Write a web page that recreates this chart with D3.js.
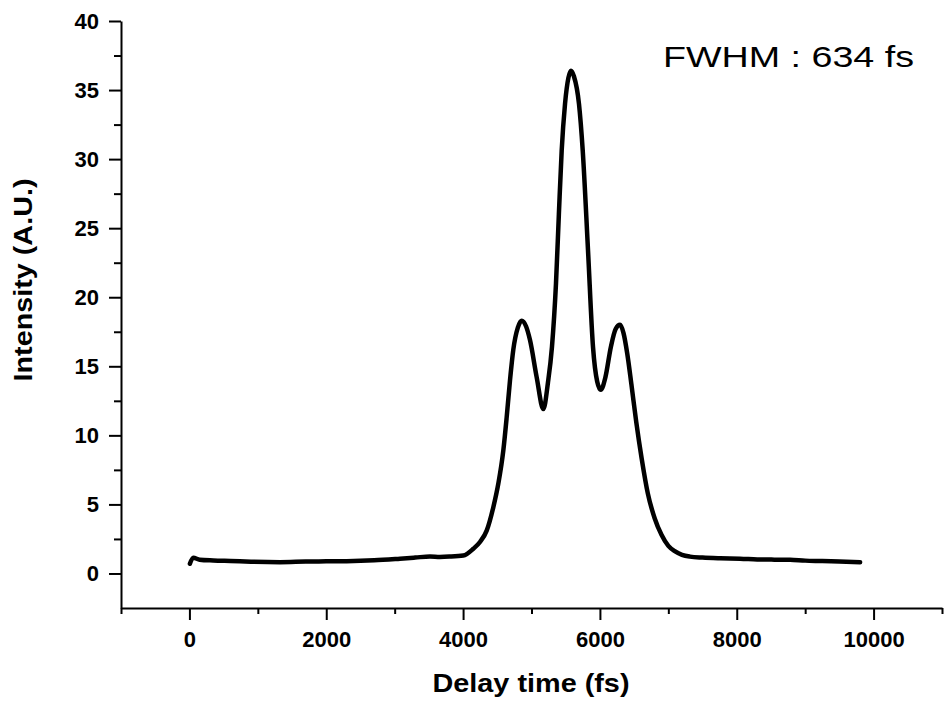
<!DOCTYPE html>
<html>
<head>
<meta charset="utf-8">
<script src="https://d3js.org/d3.v7.min.js"></script>
<style>
  body { margin: 0; background: #fff; }
  .axis path, .axis line { stroke: #000; stroke-width: 2; }
  .axis text { font-family: "Liberation Sans", Arial, sans-serif; font-weight: bold; font-size: 22px; fill: #000; }
</style>
</head>
<body>
<svg id="chart" width="946" height="702"></svg>
<script>
const delay = [7, 56, 150, 348, 600, 900, 1323, 1700, 2000, 2298, 2700, 3077, 3300, 3516, 3662, 3800, 4003,
  4149, 4250, 4345, 4442, 4515, 4588, 4637, 4686, 4734, 4800, 4857, 4920, 4978, 5076, 5173, 5240, 5299,
  5358, 5400, 5441, 5490, 5540, 5577, 5620, 5694, 5749, 5826, 5899, 5960, 6012, 6080, 6160, 6230, 6294,
  6345, 6400, 6460, 6530, 6611, 6700, 6800, 6900, 7000, 7100, 7200, 7317, 7500, 7756, 8048, 8300, 8550,
  8779, 9000, 9250, 9500, 9803];
const intensity = [0.7, 1.14, 1.0, 0.94, 0.9, 0.85, 0.82, 0.86, 0.88, 0.89, 0.95, 1.07, 1.15, 1.23, 1.2, 1.22, 1.3,
  1.79, 2.3, 3.1, 4.8, 6.5, 8.9, 11.3, 14.0, 16.2, 17.8, 18.3, 17.9, 16.9, 14.2, 11.9, 13.8, 16.4,
  21.0, 26.0, 30.6, 34.0, 35.9, 36.4, 36.0, 34.0, 30.6, 23.4, 16.4, 13.9, 13.3, 14.2, 16.4, 17.7, 18.0,
  17.4, 15.9, 13.7, 11.0, 8.3, 5.8, 4.0, 2.8, 2.0, 1.6, 1.35, 1.22, 1.15, 1.1, 1.07, 1.02, 1.0,
  0.99, 0.93, 0.9, 0.86, 0.82];

const xMajor = [0, 2000, 4000, 6000, 8000, 10000];
const xMinor = [-1000, 1000, 3000, 5000, 7000, 9000, 11000];
const yMajor = [0, 5, 10, 15, 20, 25, 30, 35, 40];
const yMinor = [2.5, 7.5, 12.5, 17.5, 22.5, 27.5, 32.5, 37.5];

const svg = d3.select("#chart");

const x = d3.scaleLinear().domain([-1000, 11000]).range([121, 942]);
const y = d3.scaleLinear().domain([-2.5, 40]).range([608, 21]);

// x axis
svg.append("g")
  .attr("class", "axis")
  .attr("transform", "translate(0," + y(-2.5) + ")")
  .call(d3.axisBottom(x).tickValues(xMajor).tickSize(12).tickPadding(11).tickSizeOuter(0).tickFormat(d3.format("d")));
svg.append("g")
  .attr("class", "axis")
  .attr("transform", "translate(0," + y(-2.5) + ")")
  .call(d3.axisBottom(x).tickValues(xMinor).tickSize(6).tickSizeOuter(0).tickFormat(""))
  .select(".domain").remove();

// y axis
svg.append("g")
  .attr("class", "axis")
  .attr("transform", "translate(" + x(-1000) + ",0)")
  .call(d3.axisLeft(y).tickValues(yMajor).tickSize(12).tickPadding(10).tickSizeOuter(0));
svg.append("g")
  .attr("class", "axis")
  .attr("transform", "translate(" + x(-1000) + ",0)")
  .call(d3.axisLeft(y).tickValues(yMinor).tickSize(7).tickSizeOuter(0).tickFormat(""))
  .select(".domain").remove();

// curve
const pts = delay.map((d, i) => [d, intensity[i]]);
svg.append("path")
  .datum(pts)
  .attr("fill", "none")
  .attr("stroke", "#000")
  .attr("stroke-width", 4.5)
  .attr("stroke-linejoin", "round")
  .attr("stroke-linecap", "round")
  .attr("d", d3.line().x(d => x(d[0])).y(d => y(d[1])).curve(d3.curveMonotoneX));

// titles
svg.append("text")
  .attr("x", 531).attr("y", 692)
  .attr("text-anchor", "middle")
  .attr("textLength", 197).attr("lengthAdjust", "spacingAndGlyphs")
  .style("font-family", "Liberation Sans, Arial, sans-serif")
  .style("font-weight", "bold").style("font-size", "26px")
  .text("Delay time (fs)");

svg.append("text")
  .attr("transform", "translate(32,280) rotate(-90)")
  .attr("text-anchor", "middle")
  .attr("textLength", 203).attr("lengthAdjust", "spacingAndGlyphs")
  .style("font-family", "Liberation Sans, Arial, sans-serif")
  .style("font-weight", "bold").style("font-size", "26px")
  .text("Intensity (A.U.)");

svg.append("text")
  .attr("x", 663).attr("y", 67)
  .attr("textLength", 251).attr("lengthAdjust", "spacingAndGlyphs")
  .style("font-family", "Liberation Sans, Arial, sans-serif")
  .style("font-size", "30px")
  .text("FWHM : 634 fs");
</script>
</body>
</html>
